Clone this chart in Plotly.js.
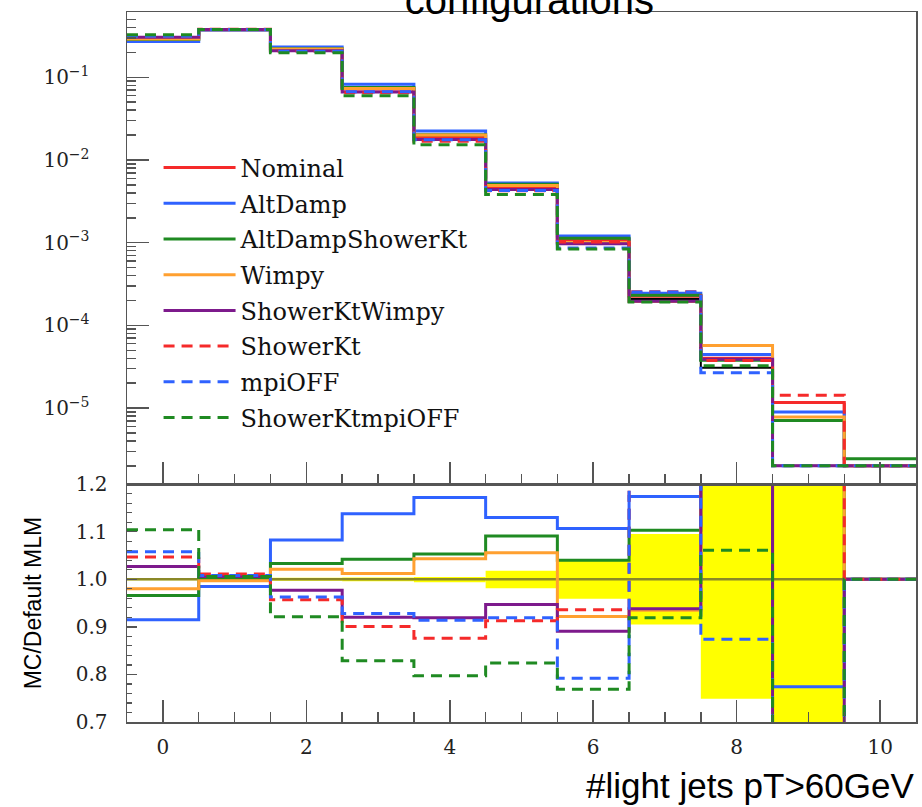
<!DOCTYPE html>
<html>
<head>
<meta charset="utf-8">
<script src="https://cdn.plot.ly/plotly-3.0.1.min.js"></script>
<style>html,body{margin:0;padding:0;background:#fff;}#chart{width:922px;height:807px;}</style>
</head>
<body>
<div id="chart"></div>
<script>
// ---- data ----
const nJets = [0, 1, 2, 3, 4, 5, 6, 7, 8, 9, 10];
const xTickVals = [0, 2, 4, 6, 8, 10];
const xTickText = ['0', '2', '4', '6', '8', '10'];
const logTickVals = [1e-5, 1e-4, 1e-3, 1e-2, 1e-1];
const logTickText = ['10<sup>\u22125</sup>', '10<sup>\u22124</sup>', '10<sup>\u22123</sup>', '10<sup>\u22122</sup>', '10<sup>\u22121</sup>'];
const ratioTickVals = [0.7, 0.8, 0.9, 1.0, 1.1, 1.2];
const ratioTickText = ['0.7', '0.8', '0.9', '1.0', '1.1', '1.2'];

const seriesNames = ['Nominal', 'AltDamp', 'AltDampShowerKt', 'Wimpy', 'ShowerKtWimpy', 'ShowerKt', 'mpiOFF', 'ShowerKtmpiOFF'];

// top panel: normalised distributions
const defaultMLM      = [0.297, 0.377, 0.215, 0.0723, 0.0192, 0.00466, 0.00109, 2.09e-4, 3.07e-5, 2.0e-6, 2.0e-6];
const nominal         = [0.297, 0.377, 0.215, 0.0723, 0.0192, 0.00466, 0.00109, 2.25e-4, 4.0e-5, 1.17e-5, 2.0e-6];
const altDamp         = [0.272, 0.371, 0.233, 0.0823, 0.0225, 0.00527, 0.001207, 2.45e-4, 4.45e-5, 8.98e-6, 2.0e-6];
const altDampShowerKt = [0.287, 0.378, 0.222, 0.0753, 0.0202, 0.00508, 0.001134, 2.31e-4, 3.8e-5, 7.1e-6, 2.44e-6];
const wimpy           = [0.291, 0.376, 0.2195, 0.0732, 0.0200, 0.00492, 0.001005, 1.95e-4, 5.7e-5, 7.8e-6, 2.0e-6];
const showerKtWimpy   = [0.305, 0.379, 0.210, 0.0665, 0.01765, 0.00441, 0.000971, 1.96e-4, 3.9e-5, 2.0e-6, 2.0e-6];
const showerKt        = [0.311, 0.381, 0.206, 0.0651, 0.01682, 0.00425, 0.00102, 2.55e-4, 3.75e-5, 1.43e-5, 2.0e-6];
const mpiOFF          = [0.314, 0.380, 0.207, 0.0671, 0.01755, 0.00428, 0.000863, 2.53e-4, 2.68e-5, 2.0e-6, 2.0e-6];
const showerKtmpiOFF  = [0.328, 0.379, 0.198, 0.0599, 0.0153, 0.00384, 0.000838, 1.92e-4, 3.26e-5, 2.0e-6, 2.0e-6];

// ratio panel: MC / Default MLM
const refRatio              = [1, 1, 1, 1, 1, 1, 1, 1, 1, 1, 1];
const ratioAltDamp          = [0.915, 0.985, 1.0825, 1.138, 1.172, 1.130, 1.107, 1.174, 1.30, 0.774, 1.0];
const ratioAltDampShowerKt  = [0.966, 1.003, 1.033, 1.042, 1.053, 1.091, 1.040, 1.103, 1.30, 1.30, 1.0];
const ratioWimpy            = [0.980, 0.997, 1.021, 1.012, 1.043, 1.056, 0.922, 0.935, 1.30, 1.30, 1.0];
const ratioShowerKtWimpy    = [1.027, 1.006, 0.977, 0.920, 0.919, 0.947, 0.891, 0.938, 1.30, 0.60, 1.0];
const ratioShowerKt         = [1.047, 1.011, 0.957, 0.901, 0.876, 0.913, 0.936, 1.30, 1.30, 1.30, 1.0];
const ratioMpiOFF           = [1.058, 1.008, 0.963, 0.928, 0.914, 0.919, 0.792, 1.30, 0.874, 0.60, 1.0];
const ratioShowerKtmpiOFF   = [1.104, 1.006, 0.921, 0.829, 0.797, 0.824, 0.769, 0.919, 1.061, 0.60, 1.0];

// statistical band of the reference
const bandLo = [0.998, 0.998, 0.997, 0.996, 0.994, 0.981, 0.959, 0.905, 0.749, 0.50, 1.0];
const bandHi = [1.002, 1.002, 1.003, 1.004, 1.005, 1.018, 1.041, 1.095, 1.251, 1.50, 1.0];

// ---- styling ----
const colors = {
  Nominal: '#f52a2a', AltDamp: '#2f62ff', AltDampShowerKt: '#1f8a22', Wimpy: '#ffa030',
  ShowerKtWimpy: '#7d1a8c', ShowerKt: '#f52a2a', mpiOFF: '#2f62ff', ShowerKtmpiOFF: '#1f8a22'
};
const dashed = { ShowerKt: true, mpiOFF: true, ShowerKtmpiOFF: true };
const DASH = '11px,7px';
const LW = 3;

const topValues = {
  Nominal: nominal, AltDamp: altDamp, AltDampShowerKt: altDampShowerKt, Wimpy: wimpy,
  ShowerKtWimpy: showerKtWimpy, ShowerKt: showerKt, mpiOFF: mpiOFF, ShowerKtmpiOFF: showerKtmpiOFF
};
const ratioValues = {
  AltDamp: ratioAltDamp, AltDampShowerKt: ratioAltDampShowerKt, Wimpy: ratioWimpy,
  ShowerKtWimpy: ratioShowerKtWimpy, ShowerKt: ratioShowerKt, mpiOFF: ratioMpiOFF, ShowerKtmpiOFF: ratioShowerKtmpiOFF
};

const edgesX = nJets.map(n => n - 0.5).concat([nJets[nJets.length - 1] + 0.5]);
const stepY = v => v.concat([v[v.length - 1]]);

const traces = [];

// ratio band (under everything)
traces.push({
  type: 'bar', x: nJets, base: bandLo, y: bandHi.map((h, i) => h - bandLo[i]),
  width: 1, marker: { color: '#ffff00', line: { width: 0 } },
  xaxis: 'x', yaxis: 'y2', showlegend: false, hoverinfo: 'skip'
});

// top: reference
traces.push({
  type: 'scatter', mode: 'lines', x: edgesX, y: stepY(defaultMLM), name: 'Default MLM',
  line: { color: '#000000', width: 2, shape: 'hv' }, xaxis: 'x2', yaxis: 'y', showlegend: false
});

seriesNames.forEach(name => {
  traces.push({
    type: 'scatter', mode: 'lines', x: edgesX, y: stepY(topValues[name]), name: name,
    legendgroup: name,
    line: { color: colors[name], width: LW, shape: 'hv', dash: dashed[name] ? DASH : 'solid' },
    xaxis: 'x2', yaxis: 'y'
  });
});

// ratio reference line
traces.push({
  type: 'scatter', mode: 'lines', x: edgesX, y: stepY(refRatio), name: 'Default MLM',
  line: { color: '#8a8828', width: 2.5, shape: 'hv' }, xaxis: 'x', yaxis: 'y2', showlegend: false
});

seriesNames.forEach(name => {
  if (!ratioValues[name]) return;
  traces.push({
    type: 'scatter', mode: 'lines', x: edgesX, y: stepY(ratioValues[name]), name: name,
    legendgroup: name, showlegend: false,
    line: { color: colors[name], width: LW, shape: 'hv', dash: dashed[name] ? DASH : 'solid' },
    xaxis: 'x', yaxis: 'y2'
  });
});

// minor ticks for log axis
const logMinor = [];
for (let d = -6; d <= 0; d++) for (let k = 2; k <= 9; k++) logMinor.push(k * Math.pow(10, d));

const axisCol = '#555555';
const serif = 'DejaVu Serif, serif';
const sans = 'Liberation Sans, Arial, sans-serif';

const layout = {
  width: 922, height: 807,
  margin: { l: 127, r: 6, t: 12, b: 85 },
  paper_bgcolor: '#ffffff', plot_bgcolor: '#ffffff',
  showlegend: true,
  title: {
    text: 'configurations', font: { family: sans, size: 40, color: '#000' },
    x: 0.51, xref: 'paper', xanchor: 'center', y: 1, yref: 'container', yanchor: 'middle'
  },
  legend: {
    x: 0.04, y: 0.812, xanchor: 'left', yanchor: 'top', xref: 'paper', yref: 'paper',
    bgcolor: 'rgba(0,0,0,0)', borderwidth: 0,
    font: { family: serif, size: 24, color: '#111' },
    traceorder: 'grouped', tracegroupgap: 1.5, itemwidth: 72
  },
  xaxis: {
    domain: [0, 1], anchor: 'y2', range: [-0.5, 10.5],
    tickmode: 'array', tickvals: xTickVals, ticktext: xTickText,
    ticks: 'inside', ticklen: 22, tickwidth: 1.5, tickcolor: axisCol,
    minor: { dtick: 0.5, tick0: 0, ticks: 'inside', ticklen: 10, tickwidth: 1.5, tickcolor: axisCol },
    showline: true, linecolor: axisCol, linewidth: 1.5, mirror: true,
    showgrid: false, zeroline: false,
    tickfont: { family: serif, size: 20, color: '#222' }, ticklabelstandoff: 6
  },
  xaxis2: {
    domain: [0, 1], anchor: 'y', matches: 'x', range: [-0.5, 10.5],
    tickmode: 'array', tickvals: xTickVals, showticklabels: false,
    ticks: 'inside', ticklen: 22, tickwidth: 1.5, tickcolor: axisCol,
    minor: { dtick: 0.5, tick0: 0, ticks: 'inside', ticklen: 10, tickwidth: 1.5, tickcolor: axisCol },
    showline: true, linecolor: axisCol, linewidth: 1.5, mirror: true,
    showgrid: false, zeroline: false
  },
  yaxis: {
    domain: [0.335, 1], anchor: 'x2', type: 'log', range: [-5.92, -0.21],
    tickmode: 'array', tickvals: logTickVals, ticktext: logTickText,
    ticks: 'inside', ticklen: 22, tickwidth: 1.5, tickcolor: axisCol,
    minor: { tickmode: 'array', tickvals: logMinor, ticks: 'inside', ticklen: 9, tickwidth: 1.5, tickcolor: axisCol },
    showline: true, linecolor: axisCol, linewidth: 1.5, mirror: true,
    showgrid: false, zeroline: false,
    tickfont: { family: serif, size: 20, color: '#222' }, ticklabelstandoff: 32
  },
  yaxis2: {
    domain: [0, 0.335], anchor: 'x', range: [0.7, 1.2],
    tickmode: 'array', tickvals: ratioTickVals, ticktext: ratioTickText,
    ticks: 'inside', ticklen: 10, tickwidth: 1.5, tickcolor: axisCol,
    minor: { dtick: 0.02, tick0: 0.7, ticks: 'inside', ticklen: 5, tickwidth: 1.2, tickcolor: axisCol },
    showline: true, linecolor: axisCol, linewidth: 1.5, mirror: true,
    showgrid: false, zeroline: false,
    tickfont: { family: serif, size: 20, color: '#222' }, ticklabelstandoff: 14,
    title: { text: 'MC/Default MLM', font: { family: sans, size: 23, color: '#000' }, standoff: 27 }
  },
  annotations: [{
    text: '#light jets pT>60GeV', xref: 'paper', yref: 'paper', x: 1, y: -0.09,
    xanchor: 'right', yanchor: 'middle', showarrow: false,
    font: { family: sans, size: 35, color: '#000' }
  }]
};

Plotly.newPlot('chart', traces, layout, { displayModeBar: false, staticPlot: true });
</script>
</body>
</html>
